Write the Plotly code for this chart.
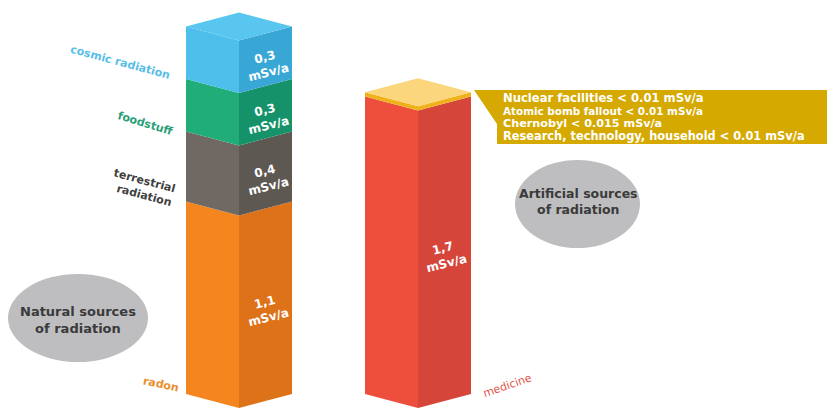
import plotly.graph_objects as go

# ---------------- data ----------------
natural_categories = ["radon", "terrestrial radiation", "foodstuff", "cosmic radiation"]
natural_values = [1.1, 0.4, 0.3, 0.3]
natural_labels = ["1,1<br>mSv/a", "0,4<br>mSv/a", "0,3<br>mSv/a", "0,3<br>mSv/a"]

artificial_categories = ["medicine"]
artificial_values = [1.7]
artificial_labels = ["1,7<br>mSv/a"]

minor_sources = ["Nuclear facilities", "Atomic bomb fallout", "Chernobyl",
                 "Research, technology, household"]
minor_values = [0.01, 0.01, 0.015, 0.01]
minor_value_text = ["0.01", "0.01", "0.015", "0.01"]
minor_cap = 0.025  # visible thickness of the minor-sources cap

# ---------------- styles ----------------
W, H = 827, 408
K = 175.0          # px per mSv
BASE_PX = 394.0    # pixel row of value 0 at the side corners
HALF_W = 53.0      # half width of the prism (px)
DEPTH = 14.0 / K   # isometric drop (mSv units)

nat_left = ["#F5861F", "#6F6863", "#21AD78", "#4DBFEA"]
nat_right = ["#DE7219", "#5E5853", "#16926A", "#39A7D6"]
nat_top = "#58C6EE"
nat_text = ["#E8902C", "#3F3F3F", "#2B9F78", "#58BEE6"]
med_left, med_right = "#EE4F3D", "#D6453A"
cap_band, cap_top = "#F0B21B", "#FBD67C"
banner_col = "#D5A900"
ellipse_col = "#BEBEC0"

NAT_CX = 239.0
ART_CX = 418.0


def v_of(py):
    return (BASE_PX - py) / K


def px(x):
    return x / W


def py(y):
    return 1 - y / H


fig = go.Figure()


def poly(xs, ys, color):
    fig.add_trace(go.Scatter(x=xs + [xs[0]], y=ys + [ys[0]], fill="toself",
                             mode="lines", line=dict(width=0, color=color),
                             fillcolor=color, hoverinfo="skip", showlegend=False))


def segment(cx, y0, y1, lcol, rcol):
    w = HALF_W
    poly([cx - w, cx, cx, cx - w], [y0, y0 - DEPTH, y1 - DEPTH, y1], lcol)
    poly([cx, cx + w, cx + w, cx], [y0 - DEPTH, y0, y1, y1 - DEPTH], rcol)


def top(cx, y, col):
    w = HALF_W
    poly([cx - w, cx, cx + w, cx], [y, y - DEPTH, y, y + DEPTH], col)


# natural column
cum = 0.0
mids = []
for i, v in enumerate(natural_values):
    segment(NAT_CX, cum, cum + v, nat_left[i], nat_right[i])
    mids.append(cum + v / 2)
    cum += v
top(NAT_CX, cum, nat_top)

# artificial column
acum = 0.0
amids = []
for v in artificial_values:
    segment(ART_CX, acum, acum + v, med_left, med_right)
    amids.append(acum + v / 2)
    acum += v
segment(ART_CX, acum, acum + minor_cap, cap_band, cap_band)
top(ART_CX, acum + minor_cap, cap_top)

# callout banner
bx = [ART_CX + HALF_W + 3, W + 5, W + 5, 497, 497]
by = [v_of(90), v_of(90), v_of(144), v_of(144), v_of(124)]
poly(bx, by, banner_col)

annotations = []


def ann(x, y, text, size, color, angle=0, align="center", xanchor="center", family="DejaVu Sans"):
    annotations.append(dict(x=px(x), y=py(y), xref="paper", yref="paper", text=text,
                            showarrow=False, textangle=angle, align=align,
                            xanchor=xanchor, yanchor="middle",
                            font=dict(family=family, size=size, color=color)))


# value labels on right faces
for m, t in zip(mids, natural_labels):
    annotations.append(dict(x=NAT_CX + HALF_W / 2 + 1, y=m - DEPTH / 2 - 0.03, xref="x", yref="y",
                            text="<b>" + t + "</b>", showarrow=False, textangle=-14,
                            xanchor="center", yanchor="middle",
                            font=dict(family="DejaVu Sans", size=12, color="white")))
for m, t in zip(amids, artificial_labels):
    annotations.append(dict(x=ART_CX + HALF_W / 2, y=m - DEPTH / 2 - 0.02, xref="x", yref="y",
                            text="<b>" + t + "</b>", showarrow=False, textangle=-14,
                            xanchor="center", yanchor="middle",
                            font=dict(family="DejaVu Sans", size=12, color="white")))

# category labels
cat_pos = {
    "cosmic radiation": (121, 62, 15, "cosmic radiation"),
    "foodstuff": (145, 123, 17, "foodstuff"),
    "terrestrial radiation": (142, 188, 15, "terrestrial<br>radiation"),
    "radon": (161, 384, 12, "radon"),
}
for c, col in zip(natural_categories, nat_text):
    x0, y0, ang, txt = cat_pos[c]
    ann(x0, y0, "<b>" + txt + "</b>", 11, col, angle=ang, align="right")
ann(508, 385, artificial_categories[0], 11, "#E0574B", angle=-19)

# banner text (single block, per-line sizes)
sizes = [11.6, 10.4, 11.2, 11.4]
lines = []
for s, v, sz in zip(minor_sources, minor_value_text, sizes):
    lines.append('<span style="font-size:%gpx"><b>%s &lt; %s mSv/a</b></span>' % (sz, s, v))
annotations.append(dict(x=px(501), y=py(117), xref="paper", yref="paper",
                        text="<br>".join(lines), showarrow=False, align="left",
                        xanchor="left", yanchor="middle",
                        font=dict(family="DejaVu Sans", size=9.8, color="white")))

# ellipses
shapes = [
    dict(type="circle", xref="paper", yref="paper", x0=px(8), x1=px(148), y0=py(274), y1=py(362),
         fillcolor=ellipse_col, line=dict(width=0), layer="below"),
    dict(type="circle", xref="paper", yref="paper", x0=px(515), x1=px(640), y0=py(160), y1=py(248),
         fillcolor=ellipse_col, line=dict(width=0), layer="below"),
]
ann(78, 320, "<b>Natural sources<br>of radiation</b>", 13, "#3A3A3A")
ann(578, 201, "<b>Artificial sources<br>of radiation</b>", 12.5, "#3A3A3A")

fig.update_layout(
    width=W, height=H, margin=dict(l=0, r=0, t=0, b=0),
    paper_bgcolor="white", plot_bgcolor="white",
    xaxis=dict(range=[0, W], visible=False, fixedrange=True),
    yaxis=dict(range=[v_of(H), v_of(0)], visible=False, fixedrange=True),
    shapes=shapes, annotations=annotations, showlegend=False,
)

fig.write_html("out.html")
